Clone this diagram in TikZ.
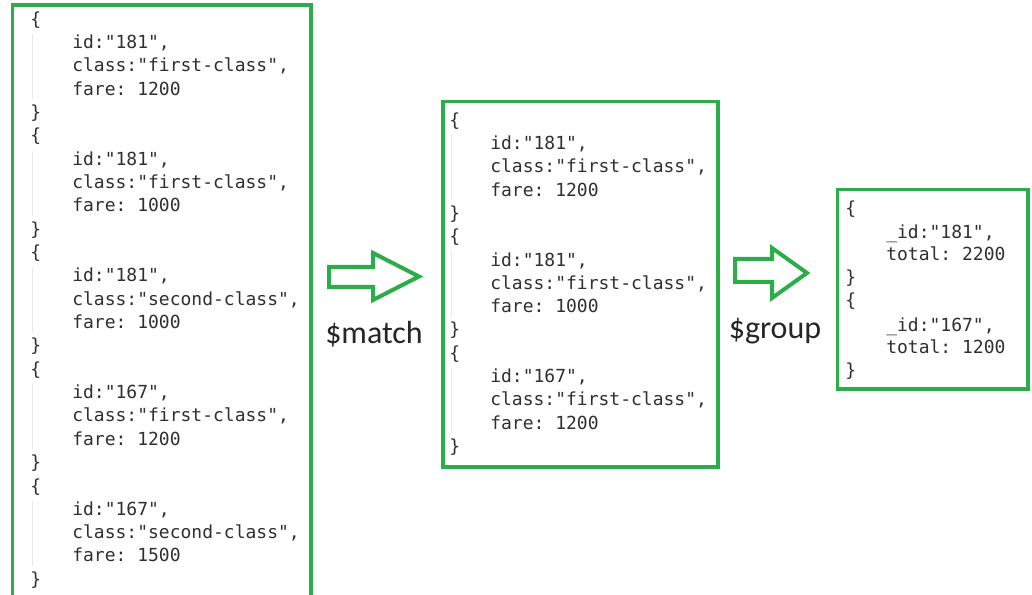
\documentclass[tikz,border=0pt]{standalone}
\usepackage{fontspec}
\setmonofont{DejaVu Sans Mono}
\newfontfamily\labelfont{Carlito}
\definecolor{boxgreen}{RGB}{43,174,74}
\definecolor{codegray}{RGB}{48,48,48}
\tikzset{
  code/.style={anchor=mid west, inner sep=0pt, yshift=-3.3pt, font=\ttfamily\fontsize{13.5pt}{15pt}\selectfont, text=codegray},
  docbox/.style={draw=boxgreen, line width=2.3pt},
  blockarrow/.style={draw=boxgreen, line width=3pt, line join=miter},
  oplabel/.style={inner sep=0pt, font=\labelfont\fontsize{24pt}{28pt}\selectfont, text=black!85},
  guide/.style={draw=gray!18, line width=0.6pt}
}
\newcommand\jsonblock[7]{%
  \node[code] (#1o) at (#2,#4) {\{};
  \node[code] (#1i) at (#3,#4+23.3) {id:"#5",};
  \node[code] (#1c) at (#3,#4+46.6) {class:"#6",};
  \node[code] (#1f) at (#3,#4+69.9) {fare: #7};
  \node[code] (#1e) at (#2,#4+93.2) {\}};
  \draw[guide] ([xshift=2pt,yshift=-4pt]#1o.south west) -- ([xshift=2pt,yshift=4pt]#1e.north west);
}
\begin{document}
\begin{tikzpicture}[x=0.75pt,y=-0.75pt]
\useasboundingbox (0,0) rectangle (1032,595);
\clip (0,0) rectangle (1032,595);
\fill[white] (0,0) rectangle (1032,595);

% left box
\draw[docbox] (12.5,5) rectangle (311,610);
\jsonblock{a}{30}{72}{18}{181}{first-class}{1200}
\jsonblock{b}{30}{72}{134.7}{181}{first-class}{1000}
\jsonblock{c}{30}{72}{251.4}{181}{second-class}{1000}
\jsonblock{d}{30}{72}{368.1}{167}{first-class}{1200}
\jsonblock{e}{30}{72}{484.8}{167}{second-class}{1500}

% middle box
\draw[docbox] (443,101.5) rectangle (718,467);
\jsonblock{f}{449}{490}{119}{181}{first-class}{1200}
\jsonblock{g}{449}{490}{235.5}{181}{first-class}{1000}
\jsonblock{h}{449}{490}{352}{167}{first-class}{1200}

% right box
\draw[docbox] (837.5,189.5) rectangle (1028,389);
\node[code] (ro1) at (845,207) {\{};
\node[code] (ri1) at (886,231) {\_id:"181",};
\node[code] (rt1) at (886,253) {total: 2200};
\node[code] (re1) at (845,276) {\}};
\node[code] (ro2) at (845,299) {\{};
\node[code] (ri2) at (886,324) {\_id:"167",};
\node[code] (rt2) at (886,346) {total: 1200};
\node[code] (re2) at (845,369) {\}};

% arrows
\draw[blockarrow] (329,267) -- (373,267) -- (373,253) -- (419,276.5) -- (373,300) -- (373,287) -- (329,287) -- cycle;
\draw[blockarrow] (735,259) -- (772,259) -- (772,248) -- (807,273) -- (772,298) -- (772,282) -- (735,282) -- cycle;

% labels
\node[oplabel] (match) at (374,334) {\$match};
\node[oplabel] (group) at (775,331) {\$group};
\end{tikzpicture}
\end{document}
